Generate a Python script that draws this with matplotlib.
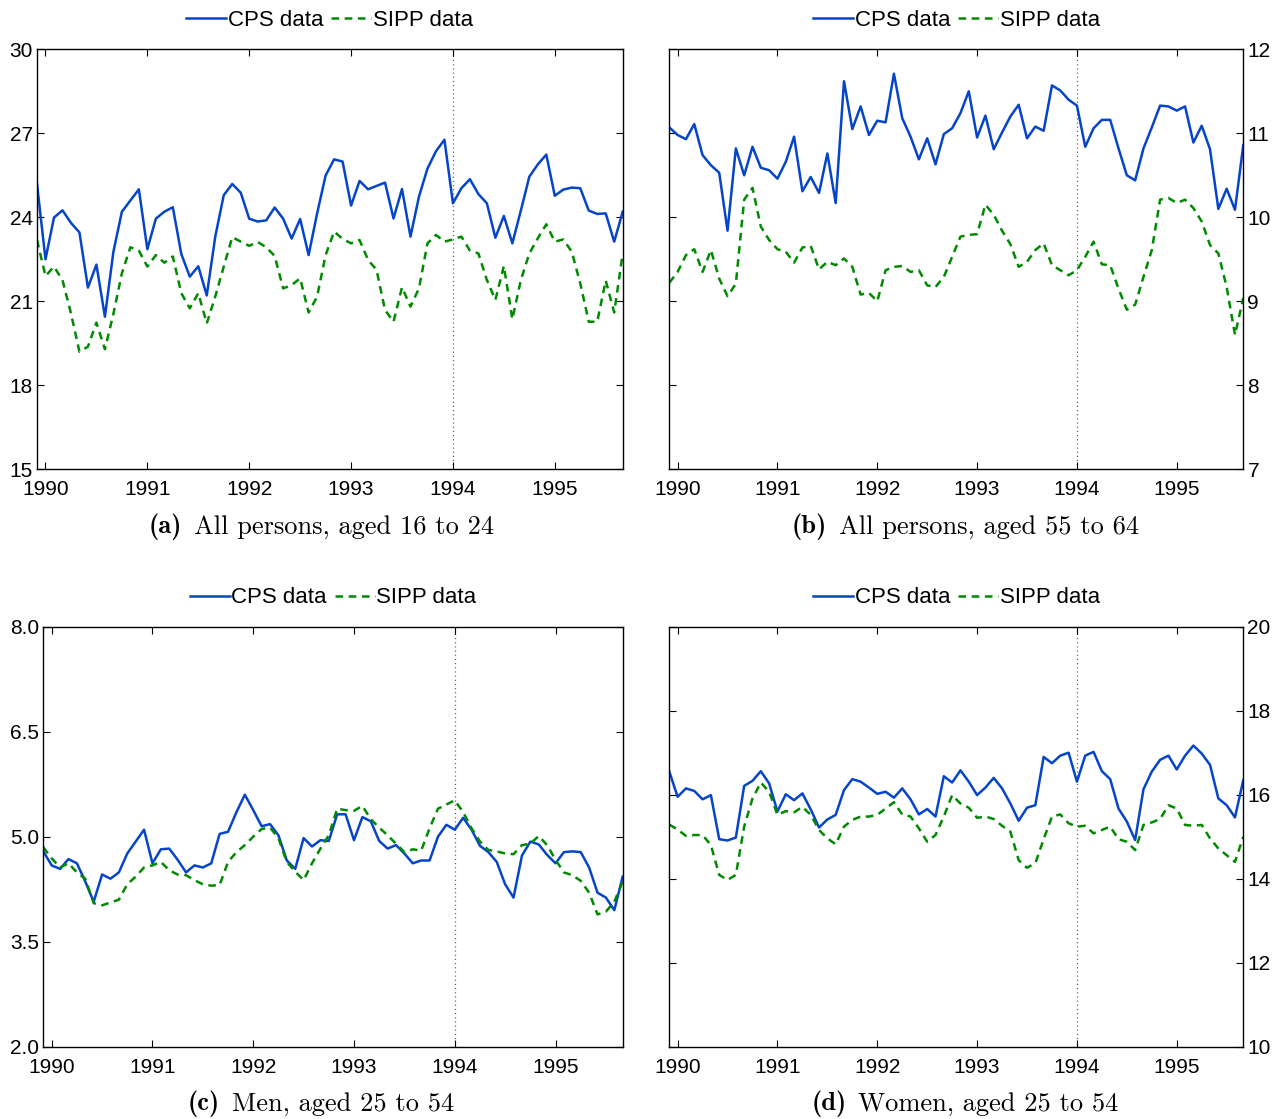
import numpy as np
import matplotlib
matplotlib.use("Agg")
import matplotlib.pyplot as plt

plt.rcParams['font.family'] = ['Liberation Sans', 'DejaVu Sans']
plt.rcParams['lines.scale_dashes'] = False

# monthly observations, Dec 1989 .. Aug 1995
months = 1990 + (np.arange(70) - 1) / 12.0

# (a) all persons 16-24
cps_a = [25.19, 22.5, 23.99, 24.25, 23.8, 23.46, 21.49, 22.31, 20.45, 22.77,
         24.2, 24.6, 25.0, 22.86, 23.95, 24.2, 24.36, 22.69, 21.88, 22.25,
         21.21, 23.31, 24.79, 25.19, 24.88, 23.95, 23.85, 23.89, 24.35, 23.95,
         23.24, 23.94, 22.65, 24.14, 25.49, 26.07, 25.99, 24.42, 25.3, 25.0,
         25.12, 25.24, 23.96, 25.01, 23.31, 24.74, 25.74, 26.36, 26.77, 24.5,
         25.04, 25.36, 24.83, 24.5, 23.27, 24.05, 23.07, 24.24, 25.45, 25.89,
         26.24, 24.77, 24.99, 25.06, 25.04, 24.24, 24.12, 24.14, 23.13, 24.2]
sipp_a = [23.19, 21.9, 22.24, 21.76, 20.57, 19.2, 19.38, 20.24, 19.29, 20.55,
          22.0, 22.93, 22.81, 22.24, 22.65, 22.38, 22.6, 21.29, 20.75, 21.29,
          20.21, 21.17, 22.24, 23.29, 23.13, 22.98, 23.12, 22.93, 22.62, 21.46,
          21.58, 21.82, 20.6, 21.17, 22.65, 23.49, 23.23, 23.07, 23.19, 22.48,
          22.12, 20.69, 20.27, 21.5, 20.81, 21.46, 23.07, 23.37, 23.13, 23.21,
          23.31, 22.81, 22.71, 21.76, 21.05, 22.26, 20.36, 21.76, 22.71, 23.25,
          23.75, 23.13, 23.21, 22.77, 21.64, 20.27, 20.27, 21.74, 20.6, 22.71]

# (b) all persons 55-64
cps_b = [11.07, 10.98, 10.93, 11.11, 10.74, 10.62, 10.53, 9.84, 10.82, 10.5,
         10.84, 10.59, 10.56, 10.46, 10.66, 10.96, 10.31, 10.48, 10.29, 10.76,
         10.17, 11.62, 11.05, 11.32, 10.98, 11.15, 11.13, 11.71, 11.18, 10.96,
         10.69, 10.94, 10.63, 10.99, 11.06, 11.24, 11.5, 10.95, 11.21, 10.81,
         11.01, 11.2, 11.34, 10.94, 11.08, 11.03, 11.57, 11.51, 11.4, 11.33,
         10.84, 11.06, 11.16, 11.16, 10.82, 10.5, 10.44, 10.82, 11.07, 11.33,
         11.32, 11.27, 11.32, 10.89, 11.09, 10.81, 10.1, 10.34, 10.09, 10.86]
sipp_b = [9.22, 9.35, 9.55, 9.62, 9.35, 9.61, 9.27, 9.06, 9.21, 10.21,
          10.35, 9.89, 9.73, 9.62, 9.59, 9.46, 9.64, 9.66, 9.38, 9.47,
          9.43, 9.51, 9.41, 9.08, 9.1, 9.0, 9.37, 9.41, 9.42, 9.35,
          9.37, 9.19, 9.17, 9.29, 9.53, 9.77, 9.79, 9.8, 10.15, 10.03,
          9.84, 9.68, 9.41, 9.47, 9.61, 9.69, 9.43, 9.37, 9.31, 9.37,
          9.53, 9.71, 9.44, 9.43, 9.15, 8.9, 8.96, 9.29, 9.61, 10.21,
          10.23, 10.17, 10.21, 10.11, 9.95, 9.67, 9.57, 9.17, 8.6, 9.04]

# (c) men 25-54
cps_c = [4.79, 4.59, 4.54, 4.68, 4.62, 4.36, 4.07, 4.46, 4.4, 4.49,
         4.76, 4.93, 5.1, 4.62, 4.82, 4.83, 4.67, 4.49, 4.59, 4.56,
         4.62, 5.04, 5.07, 5.35, 5.6, 5.38, 5.15, 5.18, 5.02, 4.66,
         4.54, 4.98, 4.86, 4.95, 4.94, 5.32, 5.32, 4.95, 5.28, 5.22,
         4.94, 4.83, 4.88, 4.76, 4.62, 4.66, 4.66, 5.0, 5.17, 5.1,
         5.27, 5.1, 4.87, 4.78, 4.64, 4.32, 4.13, 4.73, 4.93, 4.89,
         4.74, 4.62, 4.78, 4.79, 4.78, 4.56, 4.2, 4.13, 3.95, 4.43]
sipp_c = [4.85, 4.69, 4.56, 4.62, 4.49, 4.4, 4.05, 4.02, 4.06, 4.1,
          4.32, 4.43, 4.56, 4.59, 4.64, 4.52, 4.46, 4.45, 4.38, 4.32,
          4.3, 4.31, 4.64, 4.78, 4.88, 5.0, 5.11, 5.13, 4.98, 4.64,
          4.5, 4.38, 4.62, 4.83, 5.02, 5.4, 5.38, 5.37, 5.44, 5.25,
          5.13, 5.02, 4.9, 4.78, 4.82, 4.8, 5.12, 5.4, 5.46, 5.52,
          5.35, 5.12, 4.93, 4.81, 4.79, 4.76, 4.75, 4.88, 4.9, 5.01,
          4.88, 4.67, 4.49, 4.45, 4.37, 4.2, 3.89, 3.93, 4.07, 4.36]

# (d) women 25-54
cps_d = [16.55, 15.95, 16.15, 16.09, 15.89, 15.99, 14.94, 14.91, 14.98, 16.21,
         16.33, 16.56, 16.27, 15.6, 16.01, 15.87, 16.03, 15.65, 15.22, 15.41,
         15.52, 16.11, 16.37, 16.31, 16.17, 16.02, 16.07, 15.93, 16.15, 15.89,
         15.53, 15.66, 15.48, 16.44, 16.29, 16.58, 16.31, 15.99, 16.17, 16.4,
         16.15, 15.79, 15.38, 15.69, 15.75, 16.9, 16.75, 16.93, 17.0, 16.31,
         16.93, 17.02, 16.56, 16.37, 15.67, 15.36, 14.92, 16.13, 16.55, 16.83,
         16.93, 16.6, 16.93, 17.17, 16.98, 16.71, 15.91, 15.75, 15.46, 16.35]
sipp_d = [15.29, 15.17, 15.02, 15.04, 15.04, 14.8, 14.09, 13.97, 14.09, 15.24,
          15.91, 16.29, 16.07, 15.52, 15.61, 15.58, 15.71, 15.52, 15.16, 14.96,
          14.82, 15.24, 15.4, 15.48, 15.48, 15.52, 15.67, 15.82, 15.53, 15.48,
          15.2, 14.88, 15.04, 15.48, 15.99, 15.79, 15.69, 15.45, 15.48, 15.42,
          15.26, 15.12, 14.44, 14.26, 14.37, 14.94, 15.48, 15.53, 15.32, 15.24,
          15.26, 15.08, 15.16, 15.24, 14.94, 14.88, 14.68, 15.28, 15.34, 15.42,
          15.75, 15.67, 15.28, 15.26, 15.28, 14.96, 14.72, 14.56, 14.4, 15.0]

years = [1990, 1991, 1992, 1993, 1994, 1995]
tags = ["(a)", "(b)", "(c)", "(d)"]
captions = ["All persons, aged 16 to 24", "All persons, aged 55 to 64",
            "Men, aged 25 to 54", "Women, aged 25 to 54"]

panels = [
    # cps, sipp, ylim, yticks, fmt, side, axes rect, caption x, caption y
    (cps_a, sipp_a, (15, 30), [15, 18, 21, 24, 27, 30], "%d", "left",
     [37, 49.3, 622.7, 469.3], 321, 527),
    (cps_b, sipp_b, (7, 12), [7, 8, 9, 10, 11, 12], "%d", "right",
     [669.3, 49.3, 1243.3, 469.3], 965, 527),
    (cps_c, sipp_c, (2, 8), [2.0, 3.5, 5.0, 6.5, 8.0], "%.1f", "left",
     [43.3, 626.7, 622.7, 1046.7], 321, 1104),
    (cps_d, sipp_d, (10, 20), [10, 12, 14, 16, 18, 20], "%d", "right",
     [669.3, 626.7, 1243.3, 1046.7], 965, 1104),
]

W, H = 1281, 1119
fig = plt.figure(figsize=(W / 100, H / 100), dpi=100)
renderer = fig.canvas.get_renderer()
gap = 12  # px between tag and caption

for k, (cps, sipp, ylim, yt, fmt, side, r, cx, cy) in enumerate(panels):
    ax = fig.add_axes([r[0] / W, 1 - r[3] / H, (r[2] - r[0]) / W, (r[3] - r[1]) / H])
    ax.plot(months, cps, color='#0645c8', lw=1.8, label='CPS data')
    ax.plot(months, sipp, color='#008a00', lw=1.8, dashes=(5.5, 4), label='SIPP data')
    ax.axvline(1994, color='0.35', lw=0.9, ls=(0, (0.8, 2.2)), zorder=0)
    ax.set_xlim(months[0], months[-1])
    ax.set_ylim(*ylim)
    ax.set_xticks(years)
    ax.set_xticklabels([str(y) for y in years])
    ax.set_yticks(yt)
    ax.set_yticklabels([fmt % v for v in yt])
    ax.tick_params(direction='in', length=5, width=0.8, labelsize=15,
                   top=True, right=True, pad=3)
    ax.tick_params(axis='x', pad=8)
    if side == "right":
        ax.tick_params(axis='y', labelleft=False, labelright=True)
    for s in ax.spines.values():
        s.set_linewidth(1.0)
    ax.legend(loc='lower center', bbox_to_anchor=(0.5, 1.0), ncol=2, frameon=False,
              fontsize=16, handlelength=1.8, handletextpad=0.08, columnspacing=0.35,
              borderaxespad=0.42)

    # caption: bold tag + roman text, centred together
    t1 = fig.text(0, 1 - cy / H, tags[k], family='cmb10', fontsize=19,
                  ha='left', va='center')
    t2 = fig.text(0, 1 - cy / H, captions[k], family='cmr10', fontsize=19,
                  ha='left', va='center')
    w1 = t1.get_window_extent(renderer).width
    w2 = t2.get_window_extent(renderer).width
    x0 = cx - (w1 + gap + w2) / 2
    t1.set_x(x0 / W)
    t2.set_x((x0 + w1 + gap) / W)

fig.savefig('out.png', dpi=100)
